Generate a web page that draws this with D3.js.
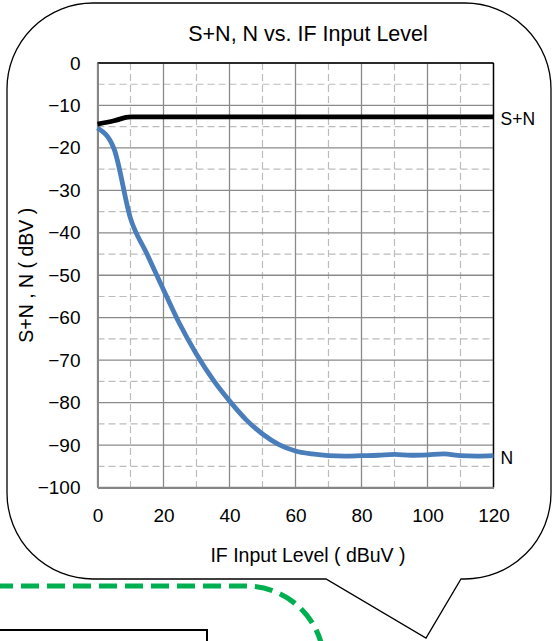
<!DOCTYPE html>
<html>
<head>
<meta charset="utf-8">
<script src="https://cdn.jsdelivr.net/npm/d3@7"></script>
<style>
  html, body { margin: 0; padding: 0; background: #ffffff; }
  svg { display: block; }
  text { font-family: "Liberation Sans", Arial, Helvetica, sans-serif; fill: #000; }
</style>
</head>
<body>
<svg id="chart" width="557" height="641"></svg>
<script>
// IF input level sweep (dBuV)
const inputLevel = [0, 5, 10, 15, 20, 25, 30, 35, 40, 45, 50, 55, 60,
                    65, 70, 75, 80, 85, 90, 95, 100, 105, 110, 115, 120];
// Signal + noise output (dBV)
const signalPlusNoise = [-14.4, -13.6, -12.7, -12.7, -12.7, -12.7, -12.7, -12.7, -12.7,
                         -12.7, -12.7, -12.7, -12.7, -12.7, -12.7, -12.7, -12.7, -12.7,
                         -12.7, -12.7, -12.7, -12.7, -12.7, -12.7, -12.7];
// Noise output (dBV)
const noiseOnly = [-15.3, -20.2, -36.6, -45.0, -53.4, -61.6, -68.6, -74.6, -79.6,
                   -84.0, -87.4, -89.9, -91.4, -92.1, -92.5, -92.6, -92.5, -92.4,
                   -92.2, -92.4, -92.3, -92.1, -92.5, -92.6, -92.5];
const xTicks = [0, 20, 40, 60, 80, 100, 120];
const yTicks = [0, -10, -20, -30, -40, -50, -60, -70, -80, -90, -100];
const xMinor = [10, 30, 50, 70, 90, 110];
const yMinor = [-5, -15, -25, -35, -45, -55, -65, -75, -85, -95];

const svg = d3.select("#chart");

// Callout balloon framing the chart
const bx0 = 7, bx1 = 551, by0 = 3, by1 = 579, br = 86;
const tail = [[326, by1], [426, 638], [461, by1]];
const balloon = d3.path();
balloon.moveTo(bx0 + br, by0);
balloon.lineTo(bx1 - br, by0);
balloon.arcTo(bx1, by0, bx1, by0 + br, br);
balloon.lineTo(bx1, by1 - br);
balloon.arcTo(bx1, by1, bx1 - br, by1, br);
balloon.lineTo(tail[2][0], tail[2][1]);
balloon.lineTo(tail[1][0], tail[1][1]);
balloon.lineTo(tail[0][0], tail[0][1]);
balloon.lineTo(bx0 + br, by1);
balloon.arcTo(bx0, by1, bx0, by1 - br, br);
balloon.lineTo(bx0, by0 + br);
balloon.arcTo(bx0, by0, bx0 + br, by0, br);
balloon.closePath();

// Green dashed connector below the balloon
const conn = d3.path();
conn.moveTo(-5, 586);
conn.lineTo(246, 586);
conn.arcTo(324, 586, 324, 664, 78);
svg.append("path").attr("d", conn.toString())
  .attr("fill", "none").attr("stroke", "#00b050")
  .attr("stroke-width", 5.2).attr("stroke-dasharray", "18,8");

// Box peeking in at the bottom left
svg.append("rect").attr("x", -10).attr("y", 630).attr("width", 217).attr("height", 40)
  .attr("fill", "#fff").attr("stroke", "#000").attr("stroke-width", 2);

svg.append("path").attr("d", balloon.toString())
  .attr("fill", "#fff").attr("stroke", "#000").attr("stroke-width", 1.3);

// Plot area
const pLeft = 97.5, pRight = 493.5, pTop = 63, pBottom = 487.5;
const x = d3.scaleLinear().domain([0, 120]).range([pLeft, pRight]);
const y = d3.scaleLinear().domain([-100, 0]).range([pBottom, pTop]);

const grid = svg.append("g");
// minor dashed grid
grid.selectAll(".vminor").data(xMinor).join("line")
  .attr("x1", d => x(d)).attr("x2", d => x(d)).attr("y1", pTop).attr("y2", pBottom)
  .attr("stroke", "#bcbcbc").attr("stroke-width", 1.2).attr("stroke-dasharray", "7,4");
grid.selectAll(".hminor").data(yMinor).join("line")
  .attr("y1", d => y(d)).attr("y2", d => y(d)).attr("x1", pLeft).attr("x2", pRight)
  .attr("stroke", "#bcbcbc").attr("stroke-width", 1.2).attr("stroke-dasharray", "7,4");
// major solid grid
grid.selectAll(".vmajor").data(xTicks).join("line")
  .attr("x1", d => x(d)).attr("x2", d => x(d)).attr("y1", pTop).attr("y2", pBottom)
  .attr("stroke", "#8a8a8a").attr("stroke-width", 1.3);
grid.selectAll(".hmajor").data(yTicks).join("line")
  .attr("y1", d => y(d)).attr("y2", d => y(d)).attr("x1", pLeft).attr("x2", pRight)
  .attr("stroke", "#8a8a8a").attr("stroke-width", 1.3);

// plot frame: dark top/right, grey axis lines left/bottom
svg.append("line").attr("x1", pLeft).attr("x2", pRight).attr("y1", pTop).attr("y2", pTop)
  .attr("stroke", "#000").attr("stroke-width", 1.4);
svg.append("line").attr("x1", pRight).attr("x2", pRight).attr("y1", pTop).attr("y2", pBottom)
  .attr("stroke", "#000").attr("stroke-width", 1.4);

// Axes
const xAxis = svg.append("g").attr("transform", `translate(0,${pBottom})`)
  .call(d3.axisBottom(x).tickValues(xTicks).tickSize(0).tickPadding(21));
const yAxis = svg.append("g").attr("transform", `translate(${pLeft},0)`)
  .call(d3.axisLeft(y).tickValues(yTicks).tickSize(0).tickPadding(17));
[xAxis, yAxis].forEach(g => {
  g.select(".domain").attr("stroke", "#868686").attr("stroke-width", 2);
  g.selectAll("text").style("font-size", "19px")
    .style("font-family", "'Liberation Sans', Arial, sans-serif").attr("fill", "#000");
});

// Series
const line = d3.line().x(d => x(d[0])).y(d => y(d[1])).curve(d3.curveMonotoneX);
const noisePts = inputLevel.map((v, i) => [v, noiseOnly[i]]);
const snPts = inputLevel.map((v, i) => [v, signalPlusNoise[i]]);
svg.append("path").datum(noisePts).attr("d", line)
  .attr("fill", "none").attr("stroke", "#4a7ebb").attr("stroke-width", 4.8)
  .attr("stroke-linejoin", "round");
svg.append("path").datum(snPts).attr("d", line)
  .attr("fill", "none").attr("stroke", "#000").attr("stroke-width", 4.8)
  .attr("stroke-linejoin", "round");

// Series end labels
const last = inputLevel.length - 1;
svg.append("text").attr("x", x(inputLevel[last]) + 7).attr("y", y(signalPlusNoise[last]) + 3)
  .attr("dominant-baseline", "middle").style("font-size", "17.5px").text("S+N");
svg.append("text").attr("x", x(inputLevel[last]) + 7).attr("y", y(noiseOnly[last]) + 4)
  .attr("dominant-baseline", "middle").style("font-size", "17.5px").text("N");

// Titles
svg.append("text").attr("x", 308).attr("y", 41).attr("text-anchor", "middle")
  .style("font-size", "21.5px").text("S+N, N vs. IF Input Level");
svg.append("text").attr("x", 308).attr("y", 562).attr("text-anchor", "middle")
  .style("font-size", "19.5px").text("IF Input Level ( dBuV )");
svg.append("text").attr("transform", `translate(33,${(pTop + pBottom) / 2}) rotate(-90)`)
  .attr("text-anchor", "middle").style("font-size", "19.5px").text("S+N , N ( dBV )");
</script>
</body>
</html>
